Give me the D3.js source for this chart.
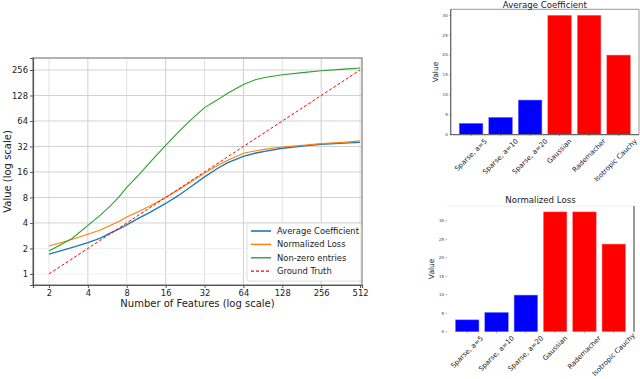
<!DOCTYPE html>
<html>
<head>
<meta charset="utf-8">
<script src="https://cdn.jsdelivr.net/npm/d3@7"></script>
<style>
  body { margin: 0; background: #fff; }
  svg { display: block; font-family: "DejaVu Sans", sans-serif; }
</style>
</head>
<body>
<div id="chart"></div>
<script>
// ---- data ----
const features = [2, 3, 4, 5, 6, 7, 8, 10, 12, 16, 20, 24, 32, 40, 48, 64, 80, 96, 128, 192, 256, 384, 512];
const avgCoef  = [1.71, 2.05, 2.34, 2.65, 3.05, 3.4, 3.8, 4.6, 5.3, 6.8, 8.4, 10.2, 14, 17.5, 20.5, 24.4, 26.8, 28.2, 30.5, 32.6, 34, 35, 35.8];
const normLoss = [2.14, 2.55, 2.94, 3.3, 3.75, 4.2, 4.7, 5.5, 6.3, 8.0, 9.8, 11.7, 15.5, 19, 21.8, 26.6, 28.5, 29.8, 31.5, 33.2, 34.6, 35.8, 37.3];
const nonZero  = [1.87, 2.6, 3.75, 4.95, 6.4, 8.2, 10.5, 15, 20.5, 33, 47, 62, 92, 113, 135, 173, 198, 210, 225, 240, 251, 262, 271];
const truthX   = [2, 4, 8, 16, 32, 64, 128, 256, 512];
const truthY   = [1, 2, 4, 8, 16, 32, 64, 128, 256];
const logTicks = [1, 2, 4, 8, 16, 32, 64, 128, 256, 512];

const categories = ['Sparse, a=5', 'Sparse, a=10', 'Sparse, a=20', 'Gaussian', 'Rademacher', 'Isotropic Cauchy'];
const barColors  = ['#0000ff', '#0000ff', '#0000ff', '#ff0000', '#ff0000', '#ff0000'];
const avgCoefBars  = [2.85, 4.35, 8.7, 30, 30, 20];
const normLossBars = [3.2, 5.2, 9.9, 32.4, 32.4, 23.7];
const barTicks = [0, 5, 10, 15, 20, 25, 30];

const svg = d3.select('#chart').append('svg')
    .attr('width', 640)
    .attr('height', 379);

// ---- left line chart ----
const L = {left: 33, right: 362, top: 58, bottom: 285};

const x = d3.scaleLog().base(2).domain([1.504, 530]).range([L.left, L.right]);
const y = d3.scaleLog().base(2).domain([0.74, 355]).range([L.bottom, L.top]);

const lg = svg.append('g');

// grid
lg.append('g').selectAll('line')
    .data(logTicks.filter(d => d >= 2))
    .join('line')
    .attr('x1', d => x(d)).attr('x2', d => x(d))
    .attr('y1', L.top).attr('y2', L.bottom)
    .attr('stroke', d => (Math.log2(d) % 2 === 0) ? '#cfcfcf' : '#e2e2e2')
    .attr('stroke-width', 1);

lg.append('g').selectAll('line')
    .data(logTicks.filter(d => d <= 256))
    .join('line')
    .attr('x1', L.left).attr('x2', L.right)
    .attr('y1', d => y(d)).attr('y2', d => y(d))
    .attr('stroke', d => d <= 2 ? '#efefef' : '#d2d2d2')
    .attr('stroke-width', 1);

// frame
lg.append('rect')
    .attr('x', L.left).attr('y', L.top)
    .attr('width', L.right - L.left).attr('height', L.bottom - L.top)
    .attr('fill', 'none').attr('stroke', '#999').attr('stroke-width', 1.5);

const xAxis = d3.axisBottom(x).tickValues(logTicks.filter(d => d >= 2)).tickFormat(d3.format('d')).tickSize(3).tickPadding(2);
lg.append('g')
    .attr('transform', 'translate(0,' + L.bottom + ')')
    .call(xAxis)
    .call(g => g.select('.domain').attr('stroke', '#555').attr('stroke-width', 1.2))
    .call(g => g.selectAll('.tick line').attr('stroke', '#555'))
    .call(g => g.selectAll('text').attr('font-size', '8.4px').attr('fill', '#222').attr('font-family', 'DejaVu Sans'));

const yAxis = d3.axisLeft(y).tickValues(logTicks.filter(d => d <= 256)).tickFormat(d3.format('d')).tickSize(3).tickPadding(2);
lg.append('g')
    .attr('transform', 'translate(' + L.left + ',0)')
    .call(yAxis)
    .call(g => g.select('.domain').attr('stroke', '#555').attr('stroke-width', 1.2))
    .call(g => g.selectAll('.tick line').attr('stroke', '#555'))
    .call(g => g.selectAll('text').attr('font-size', '8.4px').attr('fill', '#222').attr('font-family', 'DejaVu Sans'));

lg.append('text')
    .text('Number of Features (log scale)')
    .attr('x', (L.left + L.right) / 2).attr('y', 307)
    .attr('text-anchor', 'middle')
    .attr('font-size', '10px').attr('fill', '#222');

lg.append('text')
    .text('Value (log scale)')
    .attr('transform', 'rotate(-90)')
    .attr('x', -(L.top + L.bottom) / 2).attr('y', 11)
    .attr('text-anchor', 'middle')
    .attr('font-size', '10px').attr('fill', '#222');

const line = d3.line().x(d => x(d[0])).y(d => y(d[1]));
const clip = lg.append('g');

const series = [
    {name: 'Average Coefficient', xs: features, ys: avgCoef, color: '#1f77b4', dash: null, w: 1.3},
    {name: 'Normalized Loss', xs: features, ys: normLoss, color: '#ff7f0e', dash: null, w: 1.1},
    {name: 'Non-zero entries', xs: features, ys: nonZero, color: '#2ca02c', dash: null, w: 1.1},
    {name: 'Ground Truth', xs: truthX, ys: truthY, color: '#ff0000', dash: '3,2', w: 1}
];

series.forEach(s => {
    clip.append('path')
        .datum(s.xs.map((v, i) => [v, s.ys[i]]))
        .attr('d', line)
        .attr('fill', 'none')
        .attr('stroke', s.color)
        .attr('stroke-width', s.w)
        .attr('stroke-dasharray', s.dash);
});

// legend
const leg = lg.append('g').attr('transform', 'translate(247,223)');
leg.append('rect')
    .attr('width', 114).attr('height', 58).attr('rx', 2)
    .attr('fill', '#fff').attr('fill-opacity', 0.85)
    .attr('stroke', '#d5d5d5').attr('stroke-width', 0.8);
series.forEach((s, i) => {
    const ly = 8 + i * 13.4;
    leg.append('line')
        .attr('x1', 4).attr('x2', 24).attr('y1', ly).attr('y2', ly)
        .attr('stroke', s.color).attr('stroke-width', s.w + 0.3)
        .attr('stroke-dasharray', s.dash);
    leg.append('text')
        .text(s.name)
        .attr('x', 30).attr('y', ly + 3)
        .attr('font-size', '8.4px').attr('fill', '#222');
});

// ---- bar charts ----
function barChart(cfg) {
    const g = svg.append('g');
    const bx = d3.scaleLinear().domain([-0.69, 5.69]).range([cfg.left, cfg.right]);
    const by = d3.scaleLinear().domain([0, cfg.ymax]).range([cfg.bottom, cfg.top]);

    g.selectAll('rect.bar')
        .data(cfg.values)
        .join('rect')
        .attr('class', 'bar')
        .attr('x', (d, i) => bx(i - 0.4))
        .attr('width', bx(0.4) - bx(-0.4))
        .attr('y', d => by(d))
        .attr('height', d => by(0) - by(d))
        .attr('fill', (d, i) => barColors[i])
        .attr('stroke', (d, i) => barColors[i] === '#ff0000' ? '#ff7777' : '#6f6fff')
        .attr('stroke-width', 0.5);

    // spines
    const sp = cfg.spines;
    if (sp.top) g.append('line').attr('x1', cfg.left).attr('x2', cfg.right).attr('y1', cfg.top).attr('y2', cfg.top).attr('stroke', sp.top).attr('stroke-width', 1);
    if (sp.right) g.append('line').attr('x1', cfg.right).attr('x2', cfg.right).attr('y1', cfg.top).attr('y2', cfg.bottom).attr('stroke', sp.right).attr('stroke-width', sp.rightW || 1);
    if (sp.left) g.append('line').attr('x1', cfg.left).attr('x2', cfg.left).attr('y1', cfg.top).attr('y2', cfg.bottom).attr('stroke', sp.left).attr('stroke-width', 1.3);
    if (sp.bottom) g.append('line').attr('x1', cfg.left).attr('x2', cfg.right).attr('y1', cfg.bottom).attr('y2', cfg.bottom).attr('stroke', sp.bottom).attr('stroke-width', 1.3);

    // y ticks (tiny)
    const yt = g.append('g');
    barTicks.forEach(t => {
        yt.append('line')
            .attr('x1', cfg.left - 1.5).attr('x2', cfg.left)
            .attr('y1', by(t)).attr('y2', by(t))
            .attr('stroke', '#555').attr('stroke-width', 0.5);
        yt.append('text')
            .text(t)
            .attr('x', cfg.left - 3).attr('y', by(t) + 1.4)
            .attr('text-anchor', 'end')
            .attr('font-size', '4px').attr('fill', '#333');
    });

    // x tick labels, rotated 45deg, centred on the tick (kept inside the page)
    const fs = 6.9;
    categories.forEach((c, i) => {
        g.append('line')
            .attr('x1', bx(i)).attr('x2', bx(i))
            .attr('y1', cfg.bottom).attr('y2', cfg.bottom + 1.5)
            .attr('stroke', '#555').attr('stroke-width', 0.5);
        const t = g.append('text')
            .text(c)
            .attr('font-size', fs + 'px').attr('fill', '#222')
            .attr('text-anchor', 'middle')
            .attr('dominant-baseline', 'central');
        const len = t.node().getComputedTextLength();
        const half = (len + fs) / (2 * Math.SQRT2);
        const cx = Math.min(bx(i), 638.5 - half);
        const cy = Math.min(cfg.bottom + 3 + half, 377.5 - half);
        t.attr('transform', 'translate(' + cx + ',' + cy + ') rotate(-45)');
    });

    g.append('text')
        .text(cfg.title)
        .attr('x', (cfg.left + cfg.right) / 2).attr('y', cfg.titleY)
        .attr('text-anchor', 'middle')
        .attr('font-size', '8.6px').attr('fill', '#222');

    g.append('text')
        .text('Value')
        .attr('transform', 'rotate(-90)')
        .attr('x', -(cfg.top + cfg.bottom) / 2).attr('y', cfg.labelX)
        .attr('text-anchor', 'middle')
        .attr('font-size', '7.5px').attr('fill', '#222');
}

barChart({
    title: 'Average Coefficient', values: avgCoefBars, ymax: 31.5, titleY: 7.6,
    left: 450.7, right: 639, top: 9.3, bottom: 134.7, labelX: 438,
    spines: {top: '#999', right: '#999', left: '#666', bottom: '#666'}
});

barChart({
    title: 'Normalized Loss', values: normLossBars, ymax: 34.0, titleY: 203,
    left: 447, right: 634, top: 206, bottom: 331.7, labelX: 434,
    spines: {top: '#eeeeee', right: '#999', rightW: 2}
});
</script>
</body>
</html>
